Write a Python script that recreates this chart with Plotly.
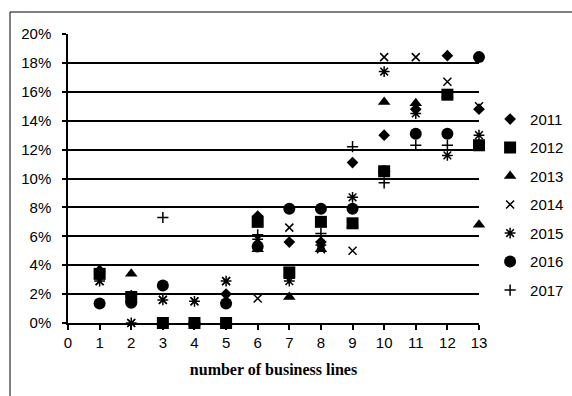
import plotly.graph_objects as go

business_lines = [1, 2, 3, 4, 5, 6, 7, 8, 9, 10, 11, 12, 13]
years = ["2011", "2012", "2013", "2014", "2015", "2016", "2017"]

v2011 = [3.6, 1.9, 0.0, 0.0, 2.0, 7.4, 5.6, 5.6, 11.1, 13.0, 14.8, 18.5, 14.8]
v2012 = [3.4, 1.8, 0.0, 0.0, 0.0, 7.0, 3.5, 7.0, 6.9, 10.5, None, 15.8, 12.3]
v2013 = [3.7, 3.4, 0.0, 0.0, 0.0, 5.1, 1.8, 5.1, 6.8, 15.3, 15.2, 15.8, 6.8]
v2014 = [2.9, 0.0, 1.6, 1.5, 2.9, 1.7, 6.6, 5.1, 5.0, 18.4, 18.4, 16.7, 15.0]
v2015 = [2.9, 0.0, 1.6, 1.5, 2.9, 5.8, 2.9, 5.4, 8.7, 17.4, 14.5, 11.6, 13.0]
v2016 = [1.35, 1.4, 2.6, 0.0, 1.35, 5.3, 7.9, 7.9, 7.9, 10.5, 13.1, 13.1, 18.4]
v2017 = [3.4, 1.8, 7.3, 0.0, 1.4, 6.1, 3.1, 6.2, 12.2, 9.7, 12.3, 12.3, 12.3]

series = [v2011, v2012, v2013, v2014, v2015, v2016, v2017]
y_ticks = [0, 2, 4, 6, 8, 10, 12, 14, 16, 18, 20]

styles = [
    dict(symbol="diamond", size=9, color="black"),
    dict(symbol="square", size=12, color="black"),
    dict(symbol="triangle-up", size=11, color="black"),
    dict(symbol="x-thin-open", size=8, color="black", line=dict(color="black", width=1.5)),
    dict(symbol="asterisk-open", size=9, color="black", line=dict(color="black", width=1.5)),
    dict(symbol="circle", size=12, color="black"),
    dict(symbol="cross-thin-open", size=8, color="black", line=dict(color="black", width=1.5)),
]

fig = go.Figure()
for name, vals, st in zip(years, series, styles):
    fig.add_trace(go.Scatter(
        x=business_lines,
        y=[None if v is None else v / 100 for v in vals],
        mode="markers",
        name=name,
        legendgroup=name,
        marker=st,
        cliponaxis=False,
    ))

fig.update_layout(
    width=572, height=396,
    margin=dict(l=68, r=93, t=34, b=73, autoexpand=False),
    paper_bgcolor="white",
    plot_bgcolor="white",
    font=dict(family="Liberation Sans, Arial", size=15, color="black"),
    showlegend=True,
    legend=dict(
        x=1.027, xanchor="left", y=0.762, yanchor="top",
        font=dict(size=15, color="black"),
        tracegroupgap=6,
        itemwidth=30,
        bgcolor="rgba(0,0,0,0)",
    ),
    shapes=[dict(
        type="rect", xref="paper", yref="paper",
        x0=-0.1411, x1=1.24, y0=-0.27, y1=1.0761,
        line=dict(color="black", width=1), layer="below",
    )],
)

fig.update_xaxes(
    range=[0, 13], tickmode="array", tickvals=[0] + business_lines,
    showgrid=False, zeroline=False, automargin=False,
    showline=True, linecolor="black", linewidth=1.5,
    ticks="outside", ticklen=5, tickcolor="black", tickwidth=1.5,
    tickfont=dict(size=15),
    title=dict(text="number of business lines",
               font=dict(family="Liberation Serif, Times New Roman", size=16, color="black", weight="bold"),
               standoff=14),
)
fig.update_yaxes(
    range=[0, 0.20], tickmode="array", tickvals=[t / 100 for t in y_ticks],
    ticktext=[f"{t}%" for t in y_ticks],
    showgrid=True, gridcolor="black", gridwidth=1.5,
    zeroline=False, automargin=False,
    showline=True, linecolor="black", linewidth=1.5,
    ticks="outside", ticklen=4, tickcolor="black", tickwidth=1.5,
    ticklabelstandoff=8,
    tickfont=dict(size=15),
)

fig.write_html("out.html", config={"displayModeBar": False},
               post_script="document.body.style.margin='0';")
